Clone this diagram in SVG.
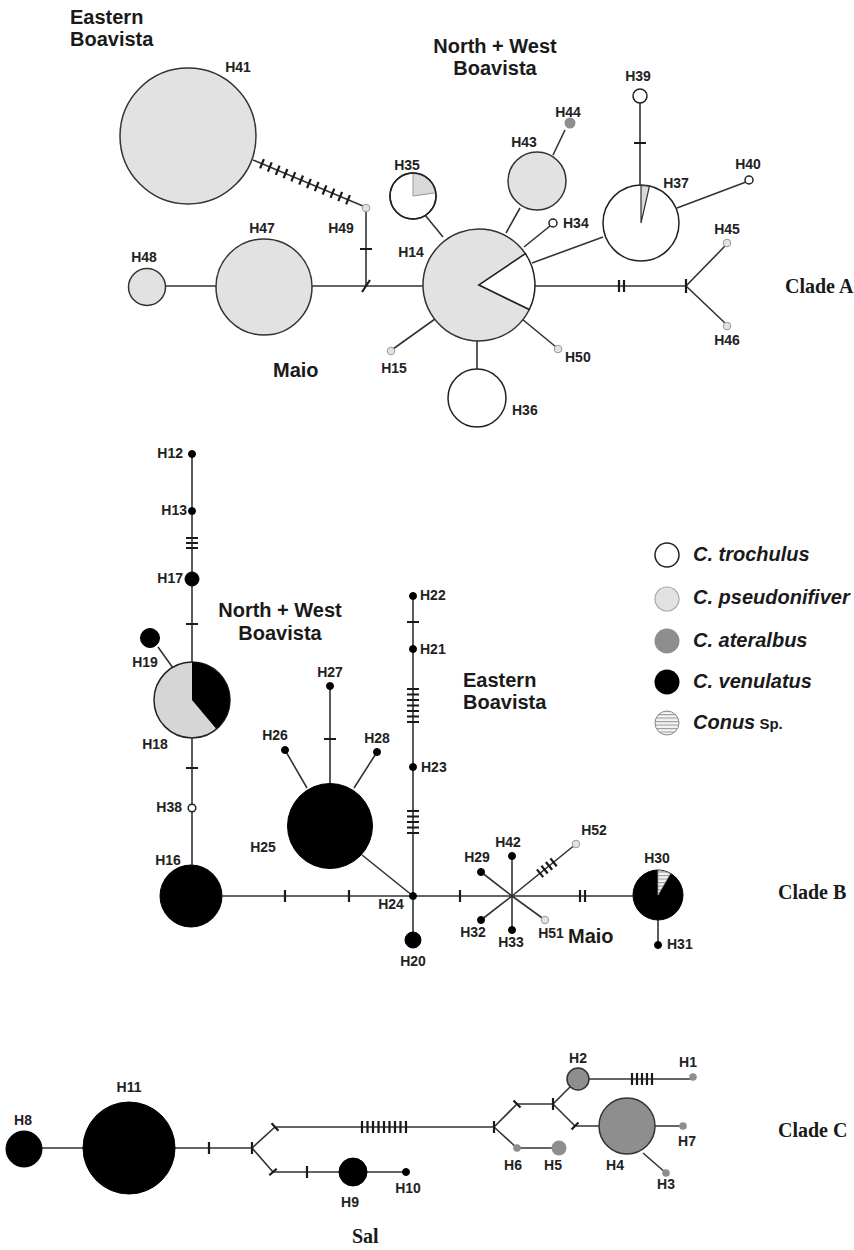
<svg xmlns="http://www.w3.org/2000/svg" width="854" height="1250" viewBox="0 0 854 1250">
<defs>
<pattern id="stripes" patternUnits="userSpaceOnUse" width="6" height="3.5">
<rect width="6" height="3.5" fill="#f4f4f4"/>
<line x1="0" y1="0.6" x2="6" y2="0.6" stroke="#888" stroke-width="0.9"/>
</pattern>
<style>
.edge{stroke:#333;stroke-width:1.6;fill:none}
.tick{stroke:#1a1a1a;stroke-width:2.2;fill:none}
.lbl{font-family:"Liberation Sans",Arial,sans-serif;font-weight:bold;font-size:14px;fill:#222;text-anchor:middle}
.st{text-anchor:start}
.en{text-anchor:end}
.reg{font-family:"Liberation Sans",Arial,sans-serif;font-weight:bold;font-size:20px;fill:#1a1a1a}
.clade{font-family:"Liberation Serif","Times New Roman",serif;font-weight:bold;font-size:20px;fill:#1a1a1a}
.leg{font-family:"Liberation Sans",Arial,sans-serif;font-weight:bold;font-style:italic;font-size:20px;fill:#1a1a1a}
.wh{fill:#fff;stroke:#222;stroke-width:1.5}
.ps{fill:#e2e2e2;stroke:#333;stroke-width:1.5}
.psd{fill:#e2e2e2;stroke:#999;stroke-width:1}
.at{fill:#8e8e8e;stroke:#333;stroke-width:1.5}
.atd{fill:#8e8e8e;stroke:none}
.ve{fill:#000;stroke:#000;stroke-width:1}
.cs{fill:url(#stripes);stroke:#888;stroke-width:1}
</style>
</defs>
<rect width="854" height="1250" fill="#fff"/>

<!-- ================= CONNECTORS ================= -->
<g id="connectors">
<!-- Clade A -->
<path class="edge" d="M165,286 H216 M312,286 H423 M535,286 H686"/>
<path class="edge" d="M253,160 L363,206"/>
<path class="edge" d="M366,212 V286"/>
<path class="edge" d="M425,215 L443,237 M520,208 L506,233 M553,155 L565,130 M550,226 L524,247 M603,237 L532,263 M640,103 V185 M677,208 L746,182"/>
<path class="edge" d="M686,286 L725,246 M686,286 L725,323 M435,319 L393,349 M522,319 L556,347 M477,341 V369"/>
<!-- Clade A ticks -->
<path class="tick" d="M260.1,168.4 L263.9,159.2 M267.9,171.6 L271.7,162.4 M275.8,174.9 L279.6,165.7 M283.6,178.2 L287.4,169.0 M291.4,181.4 L295.2,172.2 M299.2,184.7 L303.0,175.5 M307.0,188.0 L310.8,178.8 M314.8,191.2 L318.6,182.0 M322.6,194.5 L326.4,185.3 M330.5,197.8 L334.3,188.6 M338.3,201.1 L342.1,191.9 M346.1,204.3 L349.9,195.1"/>
<path class="tick" d="M360,249 H372 M362,292 L370,280 M619,280 V292 M624,280 V292 M686,279 V293 M634,143 H646"/>
<!-- Clade B -->
<path class="edge" d="M192,454 V662 M192,738 V865 M158,647 L173,668"/>
<path class="edge" d="M222,896 H633 M362,855 L413,896 M330,784 V686 M285,750 L307,788 M377,752 L354,788 M413,596 V932 M658,920 V945"/>
<path class="edge" d="M512,896 V856 M512,896 V930 M512,896 L481,872 M512,896 L481,920 M512,896 L545,920 M512,896 L576,844"/>
<path class="tick" d="M186,538 H198 M186,543 H198 M186,548 H198 M186,624 H198 M186,768 H198"/>
<path class="tick" d="M285,890 V902 M349,890 V902 M460,890 V902 M580,890 V902 M585,890 V902 M324,739 H336 M407,622 H419"/>
<path class="tick" d="M407,689 H419 M407,694.5 H419 M407,700 H419 M407,705.5 H419 M407,711 H419 M407,716.5 H419 M407,722 H419"/>
<path class="tick" d="M407,811 H419 M407,816.5 H419 M407,822 H419 M407,827.5 H419 M407,833 H419"/>
<path class="tick" d="M536.9,869.4 L543.2,877.1 M541.4,865.7 L547.7,873.5 M545.9,862.0 L552.2,869.8 M550.4,858.4 L556.7,866.2"/>
<!-- Clade C -->
<path class="edge" d="M42,1148 H83 M175,1148 H252 L275,1127 H494 M252,1148 L273,1172 H406"/>
<path class="edge" d="M494,1127 L517,1104 H553 L578,1079 H693 M553,1104 L575,1126 H599 M655,1126 H683 M643,1153 L666,1173 M494,1127 L517,1148 H559"/>
<path class="tick" d="M209,1142 V1154 M252,1142 V1154 M271.6,1123.3 L278.4,1130.7 M269.3,1175.3 L276.7,1168.7 M307,1166 V1178"/>
<path class="tick" d="M362,1121 V1133 M367.5,1121 V1133 M373,1121 V1133 M378.5,1121 V1133 M384,1121 V1133 M389.5,1121 V1133 M395,1121 V1133 M400.5,1121 V1133 M406,1121 V1133"/>
<path class="tick" d="M494,1121 V1133 M513.5,1100.5 L520.5,1107.5 M553,1098 V1110 M571.5,1129.5 L578.5,1122.5"/>
<path class="tick" d="M632,1073 V1085 M637,1073 V1085 M642,1073 V1085 M647,1073 V1085 M652,1073 V1085"/>
</g>

<!-- ================= CLADE A NODES ================= -->
<g id="H41"><circle class="ps" cx="188" cy="136" r="68"/><text class="lbl" x="238" y="72">H41</text></g>
<g id="H48"><circle class="ps" cx="147" cy="287" r="18.5"/><text class="lbl" x="144" y="262">H48</text></g>
<g id="H47"><circle class="ps" cx="264" cy="287" r="48"/><text class="lbl" x="262" y="233">H47</text></g>
<g id="H49"><circle class="psd" cx="366" cy="208" r="3.8"/><text class="lbl" x="341" y="233">H49</text></g>
<g id="H14">
<path class="ps" d="M479,285 L529.3,309.5 A56,56 0 1,1 525.4,253.7 Z"/>
<path class="wh" d="M479,285 L525.4,253.7 A56,56 0 0,1 529.3,309.5 Z"/>
<text class="lbl" x="411" y="257">H14</text></g>
<g id="H35">
<circle class="wh" cx="413" cy="196" r="23"/>
<path d="M413,196 V173.5 A22.5,22.5 0 0,1 435.3,192.9 Z" fill="#d9d9d9" stroke="#999" stroke-width="1"/>
<circle cx="413" cy="196" r="23" fill="none" stroke="#222" stroke-width="1.5"/>
<text class="lbl" x="407" y="170">H35</text></g>
<g id="H43"><circle class="ps" cx="537" cy="181" r="29"/><text class="lbl" x="524" y="147">H43</text></g>
<g id="H44"><circle class="atd" cx="570" cy="123" r="5.5" fill="#a0a0a0"/><text class="lbl" x="568" y="117">H44</text></g>
<g id="H34"><circle class="wh" cx="553" cy="223" r="4"/><text class="lbl st" x="563" y="228">H34</text></g>
<g id="H37">
<circle class="wh" cx="641" cy="223" r="38"/>
<path d="M641,223 V185.5 A37.5,37.5 0 0,1 649.4,186.5 Z" fill="#d9d9d9" stroke="#333" stroke-width="1.2"/>
<text class="lbl" x="676" y="188">H37</text></g>
<g id="H39"><circle class="wh" cx="640" cy="96" r="7"/><text class="lbl" x="638" y="81">H39</text></g>
<g id="H40"><circle class="wh" cx="749" cy="180" r="4"/><text class="lbl" x="748" y="169">H40</text></g>
<g id="H45"><circle class="psd" cx="727" cy="243" r="3.8"/><text class="lbl" x="727" y="234">H45</text></g>
<g id="H46"><circle class="psd" cx="727" cy="326" r="3.8"/><text class="lbl" x="727" y="345">H46</text></g>
<g id="H15"><circle class="psd" cx="391" cy="351" r="3.8"/><text class="lbl" x="394" y="373">H15</text></g>
<g id="H50"><circle class="psd" cx="558" cy="349" r="3.8"/><text class="lbl st" x="565" y="362">H50</text></g>
<g id="H36"><circle class="wh" cx="477" cy="398" r="29"/><text class="lbl st" x="512" y="415">H36</text></g>

<g id="regions-A">
<text class="reg" x="70" y="24">Eastern</text>
<text class="reg" x="70" y="46">Boavista</text>
<text class="reg" x="495" y="53" text-anchor="middle">North + West</text>
<text class="reg" x="495" y="75" text-anchor="middle">Boavista</text>
<text class="reg" x="273" y="377">Maio</text>
<text class="clade" x="785" y="293">Clade A</text>
</g>

<!-- ================= CLADE B NODES ================= -->
<g id="H12"><circle class="ve" cx="192" cy="454" r="3.5"/><text class="lbl en" x="183" y="458">H12</text></g>
<g id="H13"><circle class="ve" cx="192" cy="511" r="3.5"/><text class="lbl en" x="187" y="515">H13</text></g>
<g id="H17"><circle class="ve" cx="192" cy="579" r="7"/><text class="lbl en" x="183" y="583">H17</text></g>
<g id="H19"><circle class="ve" cx="150" cy="638" r="9.5"/><text class="lbl" x="145" y="667">H19</text></g>
<g id="H18">
<circle cx="192" cy="700" r="38" fill="#d6d6d6" stroke="#222" stroke-width="1.5"/>
<path d="M192,700 V662 A38,38 0 0,1 216.4,729.1 Z" fill="#000"/>
<text class="lbl" x="155" y="749">H18</text></g>
<g id="H38"><circle class="wh" cx="192" cy="808" r="3.8"/><text class="lbl en" x="182" y="812">H38</text></g>
<g id="H16"><circle class="ve" cx="191" cy="896" r="31"/><text class="lbl" x="168" y="865">H16</text></g>
<g id="H25"><circle class="ve" cx="330" cy="826" r="42.5"/><text class="lbl" x="263" y="852">H25</text></g>
<g id="H27"><circle class="ve" cx="330" cy="686" r="3.5"/><text class="lbl" x="330" y="677">H27</text></g>
<g id="H26"><circle class="ve" cx="285" cy="750" r="3.5"/><text class="lbl" x="275" y="740">H26</text></g>
<g id="H28"><circle class="ve" cx="377" cy="752" r="3.5"/><text class="lbl" x="377" y="743">H28</text></g>
<g id="H22"><circle class="ve" cx="413" cy="596" r="3.5"/><text class="lbl st" x="420" y="600">H22</text></g>
<g id="H21"><circle class="ve" cx="413" cy="649" r="3.5"/><text class="lbl st" x="420" y="654">H21</text></g>
<g id="H23"><circle class="ve" cx="413" cy="767" r="3.5"/><text class="lbl st" x="421" y="772">H23</text></g>
<g id="H24"><circle class="ve" cx="413" cy="896" r="3.5"/><text class="lbl" x="391" y="909">H24</text></g>
<g id="H20"><circle class="ve" cx="413" cy="940" r="8"/><text class="lbl" x="413" y="966">H20</text></g>
<g id="H42"><circle class="ve" cx="512" cy="856" r="3.5"/><text class="lbl" x="508" y="847">H42</text></g>
<g id="H29"><circle class="ve" cx="481" cy="872" r="3.5"/><text class="lbl" x="477" y="862">H29</text></g>
<g id="H32"><circle class="ve" cx="481" cy="920" r="3.5"/><text class="lbl" x="473" y="937">H32</text></g>
<g id="H33"><circle class="ve" cx="512" cy="930" r="3.5"/><text class="lbl" x="511" y="947">H33</text></g>
<g id="H51"><circle class="psd" cx="545" cy="920" r="3.8"/><text class="lbl" x="551" y="938">H51</text></g>
<g id="H52"><circle class="psd" cx="576" cy="844" r="3.8"/><text class="lbl" x="594" y="835">H52</text></g>
<g id="H30">
<circle class="ve" cx="658" cy="895" r="25"/>
<path d="M658,895 V870.5 A24.5,24.5 0 0,1 670.3,873.8 Z" fill="url(#stripes)" stroke="#999" stroke-width="0.8"/>
<text class="lbl" x="657" y="863">H30</text></g>
<g id="H31"><circle class="ve" cx="658" cy="945" r="3.5"/><text class="lbl st" x="667" y="949">H31</text></g>

<g id="regions-B">
<text class="reg" x="280" y="617" text-anchor="middle">North + West</text>
<text class="reg" x="280" y="640" text-anchor="middle">Boavista</text>
<text class="reg" x="463" y="687">Eastern</text>
<text class="reg" x="463" y="709">Boavista</text>
<text class="reg" x="568" y="943">Maio</text>
<text class="clade" x="778" y="899">Clade B</text>
</g>

<!-- ================= LEGEND ================= -->
<g id="legend">
<circle class="wh" cx="667" cy="555" r="12"/>
<text class="leg" x="693" y="561">C. trochulus</text>
<circle cx="667" cy="599" r="12" fill="#e2e2e2" stroke="#aaa" stroke-width="1.2"/>
<text class="leg" x="693" y="604">C. pseudonifiver</text>
<circle cx="667" cy="641" r="12.5" fill="#8e8e8e"/>
<text class="leg" x="693" y="647">C. ateralbus</text>
<circle cx="667" cy="682" r="12.5" fill="#000"/>
<text class="leg" x="693" y="688">C. venulatus</text>
<circle class="cs" cx="667" cy="723" r="12"/>
<text class="leg" x="693" y="729">Conus<tspan font-style="normal" font-size="15"> Sp.</tspan></text>
</g>

<!-- ================= CLADE C NODES ================= -->
<g id="H8"><circle class="ve" cx="24" cy="1149" r="18"/><text class="lbl" x="23" y="1125">H8</text></g>
<g id="H11"><circle class="ve" cx="129" cy="1148" r="46"/><text class="lbl" x="129" y="1092">H11</text></g>
<g id="H9"><circle class="ve" cx="353" cy="1172" r="14"/><text class="lbl" x="350" y="1207">H9</text></g>
<g id="H10"><circle class="ve" cx="406" cy="1172" r="3.5"/><text class="lbl" x="408" y="1193">H10</text></g>
<g id="H2"><circle class="at" cx="578" cy="1079" r="11"/><text class="lbl" x="578" y="1063">H2</text></g>
<g id="H1"><circle class="atd" cx="693" cy="1077" r="3.8"/><text class="lbl" x="688" y="1067">H1</text></g>
<g id="H4"><circle class="at" cx="627" cy="1126" r="28"/><text class="lbl" x="615" y="1170">H4</text></g>
<g id="H7"><circle class="atd" cx="683" cy="1126" r="3.8"/><text class="lbl" x="687" y="1146">H7</text></g>
<g id="H3"><circle class="atd" cx="666" cy="1173" r="3.8"/><text class="lbl" x="666" y="1189">H3</text></g>
<g id="H6"><circle class="atd" cx="517" cy="1148" r="3.8"/><text class="lbl" x="513" y="1170">H6</text></g>
<g id="H5"><circle class="atd" cx="559" cy="1148" r="7.5"/><text class="lbl" x="553" y="1170">H5</text></g>

<g id="regions-C">
<text class="clade" x="352" y="1243">Sal</text>
<text class="clade" x="778" y="1137">Clade C</text>
</g>
</svg>
